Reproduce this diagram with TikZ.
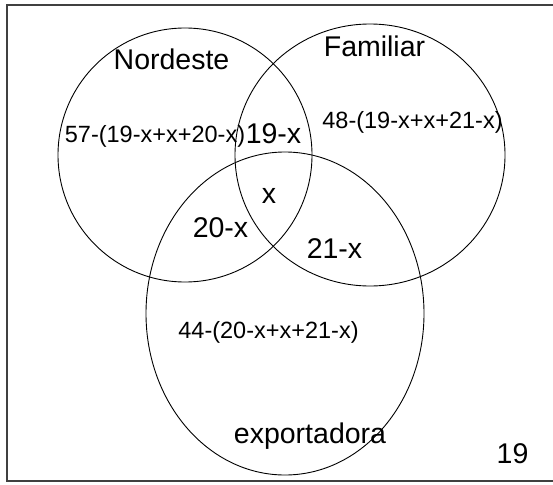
\documentclass[tikz,border=0pt]{standalone}
\usepackage{fontspec}
\setmainfont{Liberation Sans}
\begin{document}
\begin{tikzpicture}[x=1pt,y=-1pt,
  setline/.style={draw=black,line width=0.9pt},
  big/.style={anchor=base,inner sep=0pt,font=\fontsize{28.5}{30}\selectfont},
  small/.style={anchor=base,inner sep=0pt,font=\fontsize{23.5}{25}\selectfont}]
\useasboundingbox (0,0) rectangle (553,484);
\fill[white] (0,0) rectangle (553,484);
\draw[line width=1.6pt,draw=black!75] (555,5) -- (7,5) -- (7,481) -- (555,481);
% sets
\draw[setline] (185,155) ellipse [x radius=127,y radius=127];
\draw[setline] (370,155) ellipse [x radius=135,y radius=131];
\draw[setline] (285,313.5) ellipse [x radius=139,y radius=161.5];
% labels
\node[big] (nord) at (171.5,70) {Nordeste};
\node[big] (fam) at (374.5,57) {Familiar};
\node[big] (exp) at (310,443) {exportadora};
\node[small] (a) at (155,142) {57-(19-x+x+20-x)};
\node[big] (ab) at (273.5,143) {19-x};
\node[small] (b) at (412.5,128) {48-(19-x+x+21-x)};
\node[big] (abc) at (269,203) {x};
\node[big] (ac) at (220.5,237) {20-x};
\node[big] (bc) at (334.5,258) {21-x};
\node[small] (c) at (268.5,338) {44-(20-x+x+21-x)};
\node[big] (out) at (512.5,463) {19};
\end{tikzpicture}
\end{document}
